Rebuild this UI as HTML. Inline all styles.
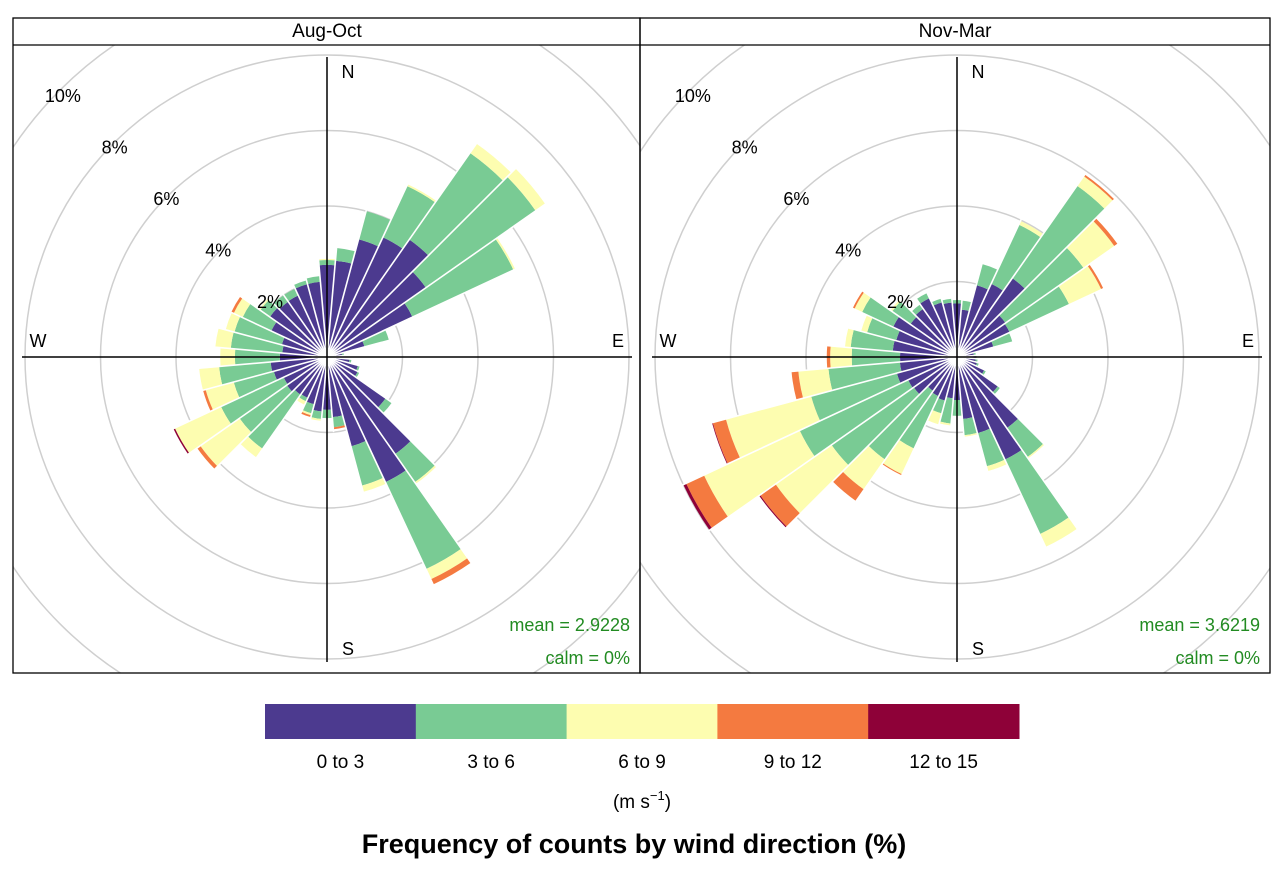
<!DOCTYPE html>
<html><head><meta charset="utf-8"><style>
html,body{margin:0;padding:0;background:#fff;}
svg{display:block;font-family:"Liberation Sans",Arial,sans-serif;}
</style></head><body>
<svg id="chart" width="1284" height="874" viewBox="0 0 1284 874" xmlns="http://www.w3.org/2000/svg">
<defs>
<clipPath id="clipL"><rect x="13" y="45" width="627" height="628"/></clipPath>
<clipPath id="clipR"><rect x="640" y="45" width="630" height="628"/></clipPath>
</defs>
<g id="panelL"></g>
<g id="panelR"></g>
<g id="frame">
<rect x="13" y="18" width="627" height="655" fill="none" stroke="#000" stroke-width="1.3"/>
<rect x="640" y="18" width="630" height="655" fill="none" stroke="#000" stroke-width="1.3"/>
<line x1="13" y1="45" x2="1270" y2="45" stroke="#000" stroke-width="1.3"/>
<text x="327" y="37" font-size="19" text-anchor="middle">Aug-Oct</text>
<text x="955" y="37" font-size="19" text-anchor="middle">Nov-Mar</text>
</g>
<g id="legend"></g>
<text x="642" y="808" font-size="19" text-anchor="middle">(m s<tspan dy="-8" font-size="13">−1</tspan><tspan dy="8">)</tspan></text>
<text x="634" y="853" font-size="27" font-weight="bold" text-anchor="middle">Frequency of counts by wind direction (%)</text>
</svg>
<script>
const directions = [0,10,20,30,40,50,60,70,80,90,100,110,120,130,140,150,160,170,180,190,200,210,220,230,240,250,260,270,280,290,300,310,320,330,340,350];
const speedBins = ["0 to 3","3 to 6","6 to 9","9 to 12","12 to 15"];
const binColors = ["#4C3A8F","#79CB94","#FDFDB0","#F47A40","#8E0138"];
const ringTicks = [2,4,6,8,10];
const tickLabels = ["2%","4%","6%","8%","10%"];
// cumulative frequency (%) up to each speed bin upper bound
const augOct_cum3  = [2.44,2.56,3.23,3.5,3.8,3.2,2.5,1.03,0.4,0.3,0.6,0.85,0.9,1.9,3.14,3.66,2.45,1.6,1.4,1.45,1.3,1.2,1.22,1.3,1.27,1.46,1.5,1.25,1.19,1.24,1.63,1.85,1.79,1.8,2.0,2.0];
const augOct_cum6  = [2.57,2.9,4.0,5.0,6.6,6.75,5.45,1.7,0.45,0.32,0.65,0.9,0.95,2.1,4.05,6.2,3.53,1.87,1.62,1.65,1.55,1.3,2.97,2.83,3.1,2.56,2.87,2.44,2.56,2.54,2.47,2.16,2.0,2.0,2.1,2.15];
const augOct_cum9  = [2.6,2.9,4.0,5.05,6.9,7.06,5.5,1.7,0.45,0.32,0.65,0.9,0.95,2.1,4.1,6.5,3.7,1.87,1.62,1.7,1.6,1.4,3.25,4.1,4.45,3.33,3.4,2.83,2.97,2.78,2.73,2.2,2.0,2.0,2.1,2.15];
const augOct_cum12 = [2.6,2.9,4.0,5.05,6.9,7.06,5.5,1.7,0.45,0.32,0.65,0.9,0.95,2.1,4.1,6.65,3.7,1.92,1.62,1.7,1.65,1.4,3.25,4.2,4.45,3.4,3.4,2.83,2.97,2.78,2.8,2.2,2.0,2.0,2.1,2.15];
const augOct_cum15 = [2.6,2.9,4.0,5.05,6.9,7.06,5.5,1.7,0.45,0.32,0.65,0.9,0.95,2.1,4.1,6.65,3.7,1.92,1.62,1.7,1.65,1.4,3.25,4.2,4.49,3.4,3.4,2.83,2.97,2.78,2.8,2.2,2.0,2.0,2.1,2.15];
const novMar_cum3  = [1.42,1.26,1.97,2.14,2.55,1.57,1.54,1.0,0.45,0.5,0.5,0.55,0.8,1.33,2.3,3.0,2.09,1.65,1.14,1.1,1.2,1.15,1.1,1.4,1.43,1.65,1.52,1.51,1.71,1.67,1.87,1.51,1.56,1.72,1.5,1.45];
const novMar_cum6  = [1.51,1.5,2.55,3.87,5.54,4.1,3.28,1.52,0.5,0.52,0.55,0.6,0.85,1.4,3.24,5.18,3.0,2.08,1.56,1.77,1.55,2.68,3.32,4.06,4.6,4.0,3.42,2.79,2.83,2.47,2.78,2.1,1.7,1.87,1.6,1.55];
const novMar_cum9  = [1.51,1.5,2.55,3.98,5.85,5.1,4.22,1.52,0.5,0.52,0.55,0.6,0.85,1.4,3.28,5.55,3.13,2.12,1.56,1.82,1.85,3.43,4.29,5.87,7.4,6.34,4.22,3.36,2.98,2.63,3.0,2.15,1.7,1.87,1.6,1.55];
const novMar_cum12 = [1.51,1.5,2.55,3.98,5.9,5.2,4.28,1.52,0.5,0.52,0.55,0.6,0.85,1.4,3.28,5.55,3.13,2.12,1.56,1.82,1.85,3.46,4.66,6.37,7.92,6.7,4.4,3.45,2.98,2.63,3.05,2.15,1.7,1.87,1.6,1.55];
const novMar_cum15 = [1.51,1.5,2.55,3.98,5.9,5.2,4.28,1.52,0.5,0.52,0.55,0.6,0.85,1.4,3.28,5.55,3.13,2.12,1.56,1.82,1.85,3.46,4.66,6.4,8.0,6.72,4.4,3.45,2.98,2.63,3.05,2.15,1.7,1.87,1.6,1.55];
const panelMeans = ["mean = 2.9228","mean = 3.6219"];
const panelCalms = ["calm = 0%","calm = 0%"];

const NS="http://www.w3.org/2000/svg";
const PX_PER_PCT = 37.75;
function rScale(v){return v*PX_PER_PCT;}
function pt(cx,cy,r,deg){const t=deg*Math.PI/180;return [cx+r*Math.sin(t),cy-r*Math.cos(t)];}
function mk(tag,attrs,parent){const e=document.createElementNS(NS,tag);for(const k in attrs)e.setAttribute(k,attrs[k]);parent.appendChild(e);return e;}

function drawPanel(gid,clip,cx,cy,series,idx,right){
  const g=document.getElementById(gid);
  const cg=mk('g',{'clip-path':'url(#'+clip+')'},g);
  ringTicks.forEach((t,i)=>{
    const c=mk('circle',{cx:cx,cy:cy,r:rScale(t),fill:'none',stroke:'#cfcfcf','stroke-width':1.5},cg);
    
    
  });
  const totals=series[series.length-1];
  directions.forEach((d,i)=>{
    let prev=0;
    series.forEach((arr,b)=>{
      const v=arr[i];
      if(v>prev){
        const r0=rScale(prev),r1=rScale(v);
        const a0=d-5,a1=d+5;
        const p1=pt(cx,cy,r0,a0),p2=pt(cx,cy,r1,a0),p3=pt(cx,cy,r1,a1),p4=pt(cx,cy,r0,a1);
        const dd='M'+p1+' L'+p2+' A'+r1+' '+r1+' 0 0 1 '+p3+' L'+p4+(r0>0?' A'+r0+' '+r0+' 0 0 0 '+p1:'')+' Z';
        const w=mk('path',{d:dd,fill:binColors[b]},cg);
        
        
      }
      prev=Math.max(prev,v);
    });
  });
  directions.forEach((d,i)=>{
    const j=(i+1)%directions.length;
    const r=rScale(Math.max(totals[i],totals[j]))+3;
    const e=pt(cx,cy,r,d+5);
    mk('line',{x1:cx,y1:cy,x2:e[0],y2:e[1],stroke:'#fff','stroke-width':1.6},cg);
  });
  const ax=mk('g',{stroke:'#000','stroke-width':1.5},cg);
  
  
  mk('line',{x1:cx,y1:cy-300,x2:cx,y2:cy+305},ax);
  mk('line',{x1:cx-305,y1:cy,x2:cx+305,y2:cy},ax);
  const lab=(txt,x,y,name,anchor)=>{const t=mk('text',{x:x,y:y,'font-size':18,'text-anchor':anchor||'middle'},g);t.textContent=txt;return t;};
  lab('N',cx+21,cy-279,'label-n');
  lab('S',cx+21,cy+298,'label-s');
  lab('W',cx-289,cy-10,'label-w');
  lab('E',cx+291,cy-10,'label-e');
  ringTicks.forEach((t,i)=>{
    lab(tickLabels[i],cx-5.2-rScale(t)*0.686,cy-3.4-rScale(t)*0.682+6,'ring-label-'+t);
  });
  const m=lab(panelMeans[idx],right,cy+274,'mean-label','end');m.setAttribute('fill','#228B22');
  const c=lab(panelCalms[idx],right,cy+307,'calm-label','end');c.setAttribute('fill','#228B22');
}
drawPanel('panelL','clipL',327,357,[augOct_cum3,augOct_cum6,augOct_cum9,augOct_cum12,augOct_cum15],0,630);
drawPanel('panelR','clipR',957,357,[novMar_cum3,novMar_cum6,novMar_cum9,novMar_cum12,novMar_cum15],1,1260);

const lg=document.getElementById('legend');
const lx0=265,lw=754/speedBins.length;
speedBins.forEach((s,i)=>{
  const r=mk('rect',{x:lx0+i*lw,y:704,width:lw+0.5,height:35,fill:binColors[i]},lg);
  
  
  const t=mk('text',{x:lx0+i*lw+lw/2,y:768,'font-size':19,'text-anchor':'middle'},lg);
  t.textContent=s;
  
  
});
</script>
</body></html>
